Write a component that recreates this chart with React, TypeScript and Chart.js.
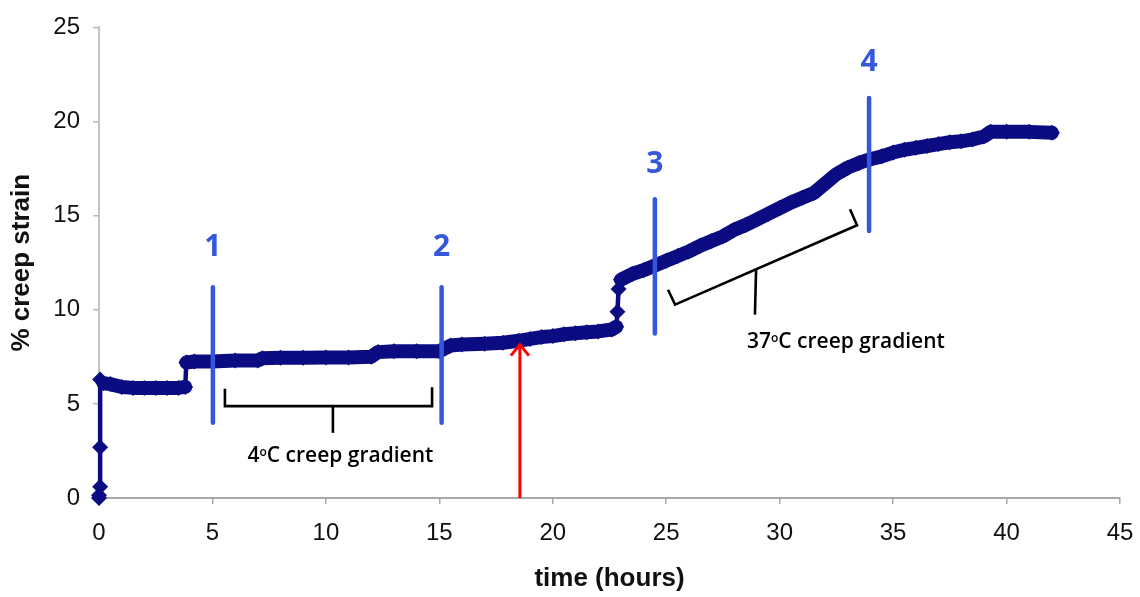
import { useEffect, useRef } from 'react';
import { Chart, registerables } from 'chart.js';

Chart.register(...registerables);

// ---- data ----
const timeHours = [
  0, 0, 0.05, 0.05, 0.05, 0.2, 0.5, 1.0, 1.5, 2, 2.5, 3, 3.5, 3.8,
  3.85, 4.2, 5, 6, 7, 7.2, 8, 9, 10, 11, 12, 12.3, 13, 14, 15,
  15.5, 16, 17, 17.8, 18.5, 19, 19.5, 20, 20.5, 21, 21.5, 22, 22.6,
  22.8, 22.85, 22.9, 23.0, 23.5, 24, 24.5, 25, 25.5, 26, 26.5, 27,
  27.5, 28, 28.5, 29, 29.5, 30, 30.5, 31, 31.5, 32, 32.5, 33, 33.5,
  34, 34.5, 35, 35.5, 36, 36.5, 37, 37.5, 38, 38.5, 39, 39.3, 40, 41, 42,
];
const creepStrain = [
  0, 0.15, 0.6, 2.7, 6.3, 6.1, 6.05, 5.9, 5.85, 5.85, 5.85, 5.85, 5.85, 5.9,
  7.2, 7.25, 7.25, 7.3, 7.3, 7.42, 7.45, 7.45, 7.47, 7.47, 7.5, 7.75, 7.8, 7.8, 7.8,
  8.1, 8.15, 8.2, 8.25, 8.35, 8.45, 8.55, 8.6, 8.7, 8.75, 8.8, 8.85, 8.95,
  9.1, 9.9, 11.1, 11.6, 11.9, 12.1, 12.35, 12.6, 12.85, 13.1, 13.4, 13.65,
  13.9, 14.25, 14.5, 14.8, 15.1, 15.4, 15.7, 15.95, 16.2, 16.7, 17.2, 17.55, 17.8,
  18.0, 18.15, 18.35, 18.5, 18.6, 18.7, 18.8, 18.9, 18.95, 19.05, 19.2, 19.45, 19.45, 19.45, 19.4,
];

const xTicks = [0, 5, 10, 15, 20, 25, 30, 35, 40, 45];
const yTicks = [0, 5, 10, 15, 20, 25];

// stage marker lines (blue)
const markerLabels = ['1', '2', '3', '4'];
const markerTime = [5.02, 15.1, 24.5, 33.94];
const markerBottom = [4.0, 4.0, 8.74, 14.18];
const markerTop = [11.2, 11.2, 15.87, 21.25];
const markerLabelY = [13.33, 13.33, 17.71, 23.15];

// brackets [time, strain]
const bracket4C = [[5.55, 5.8], [5.55, 4.88], [14.68, 4.88], [14.68, 5.89]];
const bracket4CStem = [[10.31, 4.88], [10.31, 3.46]];
const bracket37C = [[25.08, 11.06], [25.39, 10.27], [33.41, 14.49], [33.1, 15.34]];
const bracket37CStem = [[28.96, 12.12], [28.91, 9.74]];

const bracketLabelText = [['4', 'o', 'C creep gradient'], ['37', 'o', 'C creep gradient']];
const bracketLabelPos = [[10.64, 2.3], [32.92, 8.32]];

// red arrow
const arrowTime = 18.55;
const arrowFrom = 0;
const arrowTo = 8.15;

const navy = '#0c0c82';
const blue = '#3557dc';

const annotationPlugin = {
  id: 'annotations',
  afterDatasetsDraw(chart: any) {
    const ctx: CanvasRenderingContext2D = chart.ctx;
    const xs = chart.scales.x;
    const ys = chart.scales.y;
    const px = (t: number) => xs.getPixelForValue(t);
    const py = (v: number) => ys.getPixelForValue(v);
    ctx.save();

    // blue marker lines + labels
    ctx.strokeStyle = blue;
    ctx.fillStyle = blue;
    ctx.lineWidth = 4.5;
    ctx.lineCap = 'round';
    ctx.font = 'bold 30px "Open Sans", sans-serif';
    ctx.textAlign = 'center';
    ctx.textBaseline = 'middle';
    markerTime.forEach((t, i) => {
      ctx.beginPath();
      ctx.moveTo(px(t), py(markerBottom[i]));
      ctx.lineTo(px(t), py(markerTop[i]));
      ctx.stroke();
      ctx.fillText(markerLabels[i], px(t), py(markerLabelY[i]));
    });

    // brackets
    ctx.strokeStyle = '#000';
    ctx.lineWidth = 2.6;
    ctx.lineCap = 'butt';
    ctx.lineJoin = 'miter';
    [bracket4C, bracket4CStem, bracket37C, bracket37CStem].forEach((poly) => {
      ctx.beginPath();
      poly.forEach(([t, v], k) => {
        if (k === 0) ctx.moveTo(px(t), py(v));
        else ctx.lineTo(px(t), py(v));
      });
      ctx.stroke();
    });

    // bracket labels with superscript degree "o"
    ctx.fillStyle = '#000';
    ctx.textAlign = 'left';
    ctx.textBaseline = 'alphabetic';
    const mainFont = '600 21px "Open Sans", sans-serif';
    const supFont = '600 12px "Open Sans", sans-serif';
    bracketLabelText.forEach((parts, i) => {
      ctx.font = mainFont;
      const w0 = ctx.measureText(parts[0]).width;
      const w2 = ctx.measureText(parts[2]).width;
      ctx.font = supFont;
      const w1 = ctx.measureText(parts[1]).width;
      const total = w0 + w1 + w2;
      const cx = px(bracketLabelPos[i][0]);
      const cy = py(bracketLabelPos[i][1]) + 7;
      let x = cx - total / 2;
      ctx.font = mainFont;
      ctx.fillText(parts[0], x, cy);
      x += w0;
      ctx.font = supFont;
      ctx.fillText(parts[1], x, cy - 6);
      x += w1;
      ctx.font = mainFont;
      ctx.fillText(parts[2], x, cy);
    });

    // red arrow
    const ax = px(arrowTime);
    const ay0 = py(arrowFrom);
    const ay1 = py(arrowTo);
    ctx.strokeStyle = '#ff0000';
    ctx.lineWidth = 3;
    ctx.lineCap = 'butt';
    ctx.beginPath();
    ctx.moveTo(ax, ay0);
    ctx.lineTo(ax, ay1 + 1);
    ctx.stroke();
    ctx.beginPath();
    ctx.moveTo(ax - 9, ay1 + 11);
    ctx.lineTo(ax, ay1);
    ctx.lineTo(ax + 9, ay1 + 11);
    ctx.stroke();

    ctx.restore();
  },
};

export default function App() {
  const ref = useRef<HTMLCanvasElement>(null);
  useEffect(() => {
    const chart = new Chart(ref.current!, {
      type: 'line',
      data: {
        datasets: [
          {
            data: timeHours.map((t, i) => ({ x: t, y: creepStrain[i] })),
            borderColor: navy,
            backgroundColor: navy,
            borderWidth: 14,
            pointStyle: 'rectRot',
            pointRadius: 8,
            pointBorderWidth: 0,
            pointBackgroundColor: navy,
            borderJoinStyle: 'round',
            borderCapStyle: 'round',
            tension: 0,
            clip: false as any,
            segment: {
              borderWidth: (c: any) => (Math.abs(c.p1.x - c.p0.x) < 4 ? 4.5 : 14),
            },
          },
        ],
      },
      options: {
        animation: false,
        responsive: false,
        events: [],
        layout: { padding: { top: 23, right: 20, left: 0, bottom: 0 } },
        plugins: { legend: { display: false }, tooltip: { enabled: false } },
        scales: {
          x: {
            type: 'linear',
            min: 0,
            max: 45,
            afterFit: (s: any) => {
              s.height = 99;
              s.paddingLeft = 0;
              s.paddingRight = 0;
            },
            afterBuildTicks: (s: any) => {
              s.ticks = xTicks.map((v) => ({ value: v }));
            },
            grid: { drawOnChartArea: false, drawTicks: true, tickLength: 6, color: '#a8a8a8', lineWidth: 1.5 },
            border: { color: '#a8a8a8', width: 2 },
            ticks: { color: '#111', font: { family: '"Liberation Sans", Arial, sans-serif', size: 24 }, padding: 15, maxRotation: 0 },
            title: {
              display: true,
              text: 'time (hours)',
              color: '#111',
              font: { family: '"Liberation Sans", Arial, sans-serif', size: 26, weight: 'bold' },
              padding: { top: 0, bottom: 3 },
            },
          },
          y: {
            type: 'linear',
            min: 0,
            max: 25,
            afterFit: (s: any) => {
              s.width = 99;
            },
            afterBuildTicks: (s: any) => {
              s.ticks = yTicks.map((v) => ({ value: v }));
            },
            grid: { drawOnChartArea: false, drawTicks: true, tickLength: 6, color: '#b8b8b8', lineWidth: 1.5 },
            border: { color: '#c4c4c4', width: 2 },
            ticks: { color: '#111', font: { family: '"Liberation Sans", Arial, sans-serif', size: 24 }, padding: 13 },
            title: {
              display: true,
              text: '% creep strain',
              color: '#111',
              font: { family: '"Liberation Sans", Arial, sans-serif', size: 26, weight: 'bold' },
              padding: { top: 6, bottom: 0 },
            },
          },
        },
      },
      plugins: [annotationPlugin],
    });
    return () => chart.destroy();
  }, []);
  return (
    <div style={{ position: 'fixed', left: 0, top: 0, width: 1140, height: 597, background: '#fff' }}>
      <canvas ref={ref} width={1140} height={597} style={{ display: 'block' }} />
    </div>
  );
}
